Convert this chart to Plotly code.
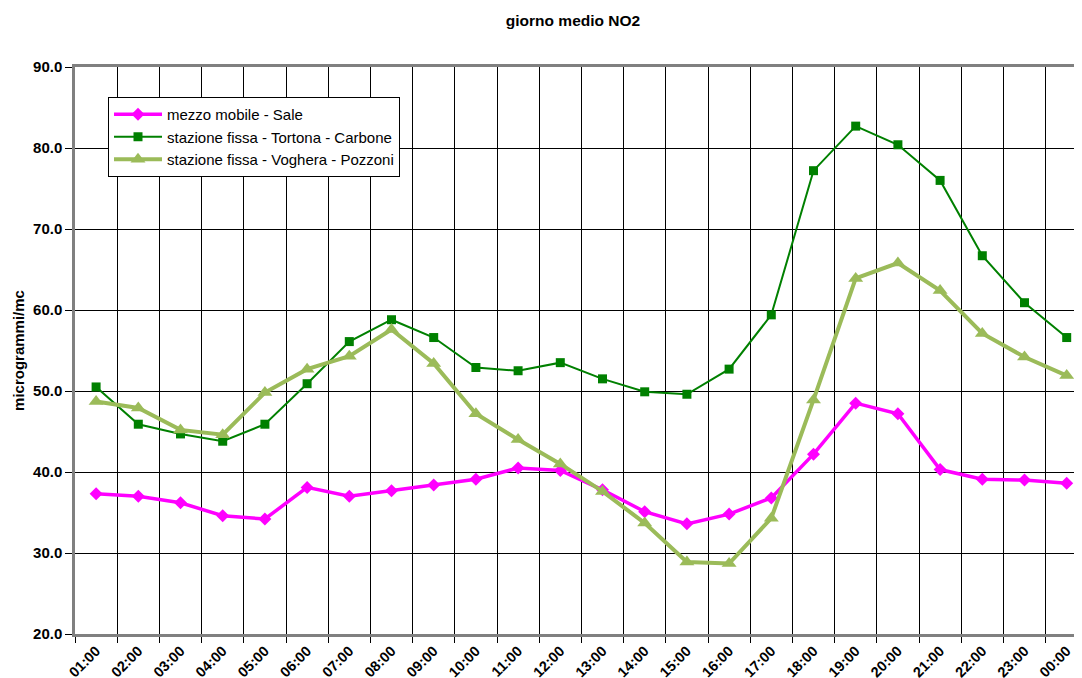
import plotly.graph_objects as go

hours = ["01:00", "02:00", "03:00", "04:00", "05:00", "06:00", "07:00", "08:00",
         "09:00", "10:00", "11:00", "12:00", "13:00", "14:00", "15:00", "16:00",
         "17:00", "18:00", "19:00", "20:00", "21:00", "22:00", "23:00", "00:00"]

sale = [37.3, 37.0, 36.2, 34.6, 34.2, 38.1, 37.0, 37.7, 38.4, 39.1, 40.5, 40.2,
        37.8, 35.1, 33.6, 34.8, 36.8, 42.2, 48.5, 47.2, 40.3, 39.1, 39.0, 38.6]

tortona = [50.5, 45.9, 44.7, 43.8, 45.9, 50.9, 56.1, 58.8, 56.6, 52.9, 52.5, 53.5,
           51.5, 49.9, 49.6, 52.7, 59.4, 77.2, 82.7, 80.4, 76.0, 66.7, 60.9, 56.6]

voghera = [48.7, 47.9, 45.2, 44.6, 49.8, 52.7, 54.3, 57.6, 53.4, 47.2, 44.0, 41.0,
           37.6, 33.7, 28.9, 28.7, 34.3, 48.9, 63.9, 65.8, 62.4, 57.1, 54.2, 51.9]

y_ticks = [20, 30, 40, 50, 60, 70, 80, 90]

FONT = "Liberation Sans, Arial, sans-serif"

# page body has an 8px margin: compensate in figure coordinates
OFF = 8
L, T = 75 - OFF, 67 - OFF
PLOT_H = 567
B = 678 - T - PLOT_H
PLOT_W = 1082 - L
CAT_W = 42.2

fig = go.Figure()
fig.add_trace(go.Scatter(
    x=hours, y=sale, name="mezzo mobile - Sale", mode="lines+markers",
    legendgroup="a",
    line=dict(color="#FF00FF", width=3.5),
    marker=dict(symbol="diamond", size=10, color="#FF00FF"),
))
fig.add_trace(go.Scatter(
    x=hours, y=tortona, name="stazione fissa - Tortona - Carbone", mode="lines+markers",
    legendgroup="b",
    line=dict(color="#008000", width=2),
    marker=dict(symbol="square", size=9, color="#008000"),
))
fig.add_trace(go.Scatter(
    x=hours, y=voghera, name="stazione fissa - Voghera - Pozzoni", mode="lines+markers",
    legendgroup="c",
    line=dict(color="#9BBB59", width=4),
    marker=dict(symbol="triangle-up", size=13, color="#9BBB59"),
))

fig.update_layout(
    width=1082, height=678,
    margin=dict(l=L, r=0, t=T, b=B),
    paper_bgcolor="white", plot_bgcolor="white",
    font=dict(family=FONT, color="black", size=14),
    title=dict(text="<b>giorno medio NO2</b>", x=(573 - OFF) / 1082, xref="container", xanchor="center",
               y=1 - (21 - OFF) / 678, yref="container", yanchor="middle",
               font=dict(family=FONT, size=15.5, color="black")),
    showlegend=True,
    legend=dict(x=(108 - OFF - L) / PLOT_W, y=(T + PLOT_H - (97 - OFF)) / PLOT_H,
                xanchor="left", yanchor="top",
                bgcolor="white", bordercolor="black", borderwidth=1,
                font=dict(family=FONT, size=15, color="black"),
                tracegroupgap=0, itemwidth=48),
)

fig.update_xaxes(
    type="category", categoryorder="array", categoryarray=hours,
    range=[-0.5, -0.5 + PLOT_W / CAT_W], tickson="boundaries",
    showgrid=True, gridcolor="black", gridwidth=1,
    ticks="outside", ticklen=6, tickcolor="black", tickwidth=1,
    tickangle=-45, tickfont=dict(family=FONT, size=14.5, color="black", weight="bold"),
    showline=True, linecolor="#808080", linewidth=2.5, mirror=True,
    zeroline=False,
)

fig.update_yaxes(
    range=[20, 90], tickvals=y_ticks, tickformat=".1f",
    showgrid=True, gridcolor="black", gridwidth=1,
    ticks="outside", ticklen=7, tickcolor="black", tickwidth=1,
    tickfont=dict(family=FONT, size=15, color="black", weight="bold"),
    showline=True, linecolor="#808080", linewidth=2.5,
    zeroline=False,
    title=dict(text="<b>microgrammi/mc</b>", font=dict(family=FONT, size=15, color="black"),
               standoff=5),
)

fig.write_html("out.html")
